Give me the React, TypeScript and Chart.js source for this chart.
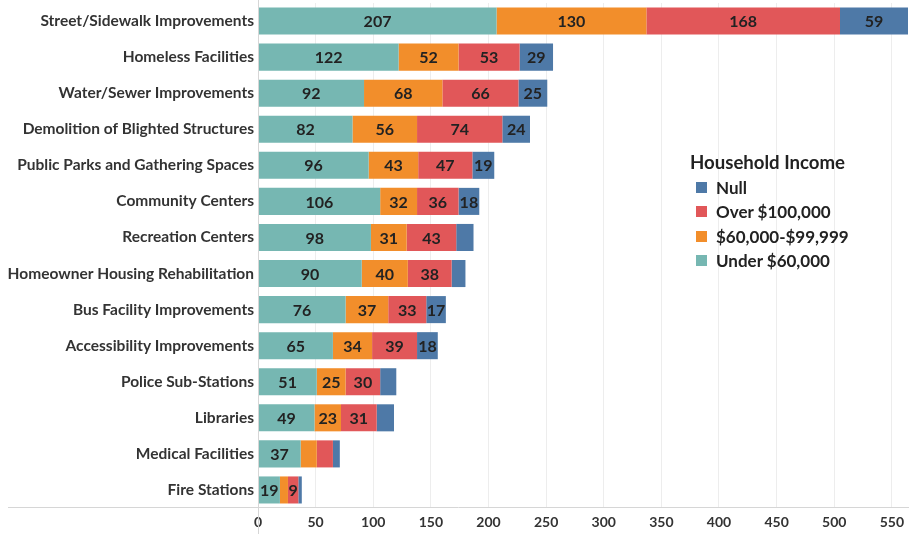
import React, { useEffect, useRef } from "react";
import { Chart, registerables } from "chart.js";

Chart.register(...registerables);

const categories = [
  "Street/Sidewalk Improvements",
  "Homeless Facilities",
  "Water/Sewer Improvements",
  "Demolition of Blighted Structures",
  "Public Parks and Gathering Spaces",
  "Community Centers",
  "Recreation Centers",
  "Homeowner Housing Rehabilitation",
  "Bus Facility Improvements",
  "Accessibility Improvements",
  "Police Sub-Stations",
  "Libraries",
  "Medical Facilities",
  "Fire Stations",
];

const under60k = [207, 122, 92, 82, 96, 106, 98, 90, 76, 65, 51, 49, 37, 19];
const from60kTo100k = [130, 52, 68, 56, 43, 32, 31, 40, 37, 34, 25, 23, 14, 7];
const over100k = [168, 53, 66, 74, 47, 36, 43, 38, 33, 39, 30, 31, 14, 9];
const nullIncome = [59, 29, 25, 24, 19, 18, 15, 12, 17, 18, 14, 15, 6, 3];

// which segment labels are printed (1 = shown)
const showUnder60k = [1, 1, 1, 1, 1, 1, 1, 1, 1, 1, 1, 1, 1, 1];
const show60kTo100k = [1, 1, 1, 1, 1, 1, 1, 1, 1, 1, 1, 1, 0, 0];
const showOver100k = [1, 1, 1, 1, 1, 1, 1, 1, 1, 1, 1, 1, 0, 1];
const showNull = [1, 1, 1, 1, 1, 1, 0, 0, 1, 1, 0, 0, 0, 0];

const xTicks = [0, 50, 100, 150, 200, 250, 300, 350, 400, 450, 500, 550];
const xMax = 564;

const seriesNames = ["Under $60,000", "$60,000-$99,999", "Over $100,000", "Null"];
const seriesColors = ["#76B7B2", "#F28E2B", "#E15759", "#4E79A7"];

const FONT = "Lato, 'Open Sans', sans-serif";
const TEXT = "#333333";

export default function App() {
  const canvasRef = useRef<HTMLCanvasElement | null>(null);

  useEffect(() => {
    document.body.style.margin = "0";
    const canvas = canvasRef.current;
    if (!canvas) return;

    const showFlags = [showUnder60k, show60kTo100k, showOver100k, showNull];

    const labelPlugin = {
      id: "segLabels",
      afterDatasetsDraw(chart: any) {
        const ctx = chart.ctx;
        ctx.save();
        ctx.font = `bold 16px ${FONT}`;
        ctx.fillStyle = "#222222";
        ctx.textAlign = "center";
        ctx.textBaseline = "middle";
        chart.data.datasets.forEach((ds: any, di: number) => {
          const meta = chart.getDatasetMeta(di);
          meta.data.forEach((el: any, i: number) => {
            if (!showFlags[di][i]) return;
            const cx = (el.x + el.base) / 2;
            ctx.fillText(String(ds.data[i]), cx, el.y + 1);
          });
        });
        ctx.restore();
      },
    };

    const axisLinePlugin = {
      id: "axisLines",
      afterDraw(chart: any) {
        const ctx = chart.ctx;
        const a = chart.chartArea;
        ctx.save();
        ctx.strokeStyle = "#d6d6d6";
        ctx.lineWidth = 1;
        ctx.beginPath();
        ctx.moveTo(Math.round(a.left) + 0.5, 0);
        ctx.lineTo(Math.round(a.left) + 0.5, chart.height);
        ctx.moveTo(8, Math.round(a.bottom) - 0.5);
        ctx.lineTo(chart.width, Math.round(a.bottom) - 0.5);
        ctx.stroke();
        ctx.restore();
      },
    };

    const datasets = [under60k, from60kTo100k, over100k, nullIncome].map((d, i) => ({
      label: seriesNames[i],
      data: d,
      backgroundColor: seriesColors[i],
      borderWidth: 0,
      barPercentage: 0.75,
      categoryPercentage: 1,
    }));

    const chart = new Chart(canvas, {
      type: "bar",
      data: { labels: categories, datasets },
      plugins: [labelPlugin, axisLinePlugin],
      options: {
        indexAxis: "y",
        animation: false,
        responsive: true,
        maintainAspectRatio: false,
        layout: { padding: { top: 3, right: 1, left: 0, bottom: 0 } },
        plugins: {
          legend: { display: false },
          tooltip: { enabled: false },
        },
        scales: {
          x: {
            stacked: true,
            min: 0,
            max: xMax,
            afterFit(scale: any) {
              scale.height = 26;
              scale.paddingLeft = 0;
              scale.paddingRight = 0;
            },
            afterBuildTicks(scale: any) {
              scale.ticks = xTicks.map((v) => ({ value: v }));
            },
            grid: { color: "#ededed", drawTicks: false },
            border: { display: false },
            ticks: {
              padding: 6,
              color: TEXT,
              font: { family: FONT, size: 14, weight: "bold" },
              maxRotation: 0,
            },
          },
          y: {
            stacked: true,
            afterFit(scale: any) {
              scale.width = 258;
              scale.paddingTop = 0;
              scale.paddingBottom = 0;
            },
            grid: { display: false, drawTicks: false },
            border: { display: false },
            ticks: {
              padding: 4,
              color: TEXT,
              font: { family: FONT, size: 15.5, weight: "bold" },
              autoSkip: false,
            },
          },
        },
      } as any,
    });

    return () => chart.destroy();
  }, []);

  const legendItems = [...seriesNames].reverse();
  const legendColors = [...seriesColors].reverse();

  return (
    <div style={{ position: "relative", width: 909, height: 534 }}>
      <canvas ref={canvasRef} />
      <div
        style={{
          position: "absolute",
          left: 690,
          top: 149,
          fontFamily: FONT,
          color: "#222",
          fontWeight: "bold",
        }}
      >
        <div style={{ fontSize: 18.6, lineHeight: "26px", marginBottom: 0 }}>Household Income</div>
        {legendItems.map((name, i) => (
          <div
            key={name}
            style={{ display: "flex", alignItems: "center", height: 24.5, fontSize: 17 }}
          >
            <span
              style={{
                display: "inline-block",
                width: 11,
                height: 11,
                marginLeft: 6,
                marginRight: 9,
                background: legendColors[i],
              }}
            />
            {name}
          </div>
        ))}
      </div>
    </div>
  );
}
